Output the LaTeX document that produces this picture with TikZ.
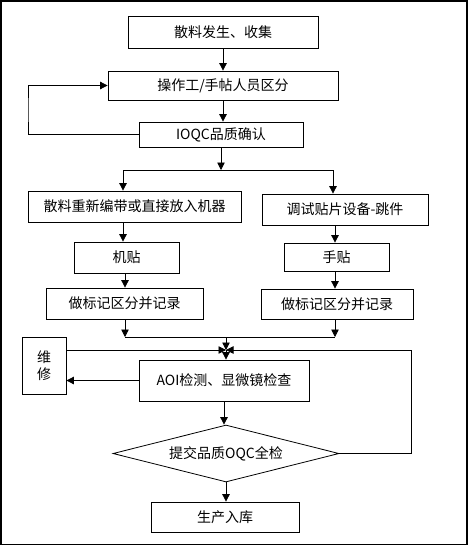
\documentclass[tikz,border=0pt]{standalone}
\usepackage{fontspec}
\setmainfont{Noto Sans CJK SC}
\usetikzlibrary{shapes.geometric,arrows.meta}
\begin{document}
\begin{tikzpicture}[x=1pt,y=-1pt,
  box/.style={draw, line width=0.8pt, inner sep=0pt, font=\fontsize{14}{17}\selectfont},
  dia/.style={draw, diamond, line width=0.8pt, inner sep=0pt, aspect=4, font=\fontsize{14}{17}\selectfont},
  arr/.style={-{Triangle[length=7.5pt,width=7.5pt]}, line width=0.8pt},
  ln/.style={line width=0.8pt}]
\useasboundingbox (0,0) rectangle (468,546);
\draw[line width=1.5pt] (0.75,0.75) rectangle (467,544.5);

\node[box, minimum width=190pt, minimum height=32pt] (b1) at (223,32) {散料发生、收集};
\node[box, minimum width=230pt, minimum height=29pt] (b2) at (223,85.5) {操作工/手帖人员区分};
\node[box, minimum width=164pt, minimum height=25pt] (b3) at (221,134.5) {IOQC品质确认};
\node[box, minimum width=213pt, minimum height=31pt] (b4) at (134.5,206.5) {散料重新编带或直接放入机器};
\node[box, minimum width=166pt, minimum height=31pt] (b5) at (345,209.5) {调试贴片设备-跳件};
\node[box, minimum width=105pt, minimum height=31pt] (b6) at (126.5,257.5) {机贴};
\node[box, minimum width=157pt, minimum height=31pt] (b7) at (124.5,303.5) {做标记区分并记录};
\node[box, minimum width=105pt, minimum height=28pt] (b8) at (336.5,257) {手贴};
\node[box, minimum width=152pt, minimum height=30pt] (b9) at (337,304) {做标记区分并记录};
\node[box, minimum width=44pt, minimum height=57pt, align=center] (wx) at (44,365.5) {维\\修};
\node[box, minimum width=170pt, minimum height=41pt] (aoi) at (224,380.5) {AOI检测、显微镜检查};
\node[dia, minimum width=226pt, minimum height=57pt] (qc) at (226,453.5) {提交品质OQC全检};
\node[box, minimum width=148pt, minimum height=30pt] (end) at (225,517) {生产入库};

\coordinate (lp) at (28,110);
\coordinate (sp) at (221,170);
\coordinate (spl) at (123,170);
\coordinate (spr) at (333,170);
\coordinate (jl) at (125,337);
\coordinate (jr) at (335,337);
\coordinate (jm) at (226,337);
\coordinate (m) at (226,350);
\coordinate (r) at (411,350);

\draw[arr] (b1.south) -- (b1.south |- b2.north);
\draw[arr] (b2.south) -- (b2.south |- b3.north);
\draw[arr] (b3.west) -| (lp) |- (b2.west);
\draw[arr] (b3.south) -- (sp);
\draw[ln] (spl) -- (spr);
\draw[arr] (spl) -- (spl |- b4.north);
\draw[arr] (spr) -- (spr |- b5.north);
\draw[arr] (spl |- b4.south) -- (spl |- b6.north);
\draw[arr] (jl |- b6.south) -- (jl |- b7.north);
\draw[arr] (jr |- b5.south) -- (jr |- b8.north);
\draw[arr] (jr |- b8.south) -- (jr |- b9.north);
\draw[arr] (jl |- b7.south) -- (jl);
\draw[arr] (jr |- b9.south) -- (jr);
\draw[ln] (jl) -- (jr);
\draw[arr] (jm) -- (m);
\draw[arr] (wx.north east |- m) -- (m);
\draw[arr] (qc.east) -| (r) -- (m);
\draw[arr] (m) -- (m |- aoi.north);
\draw[arr] (aoi.west) -- (aoi.west -| wx.east);
\draw[arr] (aoi.south) -- (aoi.south |- qc.north);
\draw[arr] (qc.south) -- (qc.south |- end.north);
\end{tikzpicture}
\end{document}
